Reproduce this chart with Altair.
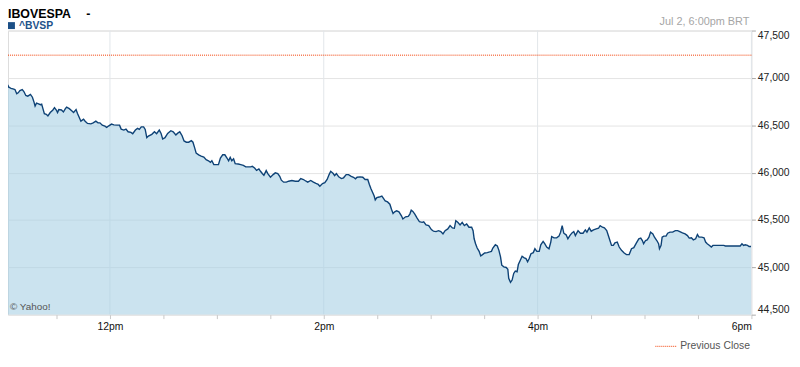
import altair as alt
import pandas as pd

# ---- data (minutes after 11:00 BRT, index level) ----
TIME_MIN = [
    0.1, 0.6, 1.7, 2.8, 3.4, 4.5, 5.6, 6.7, 7.7, 8.5,
    9.5, 10.8, 11.7, 12.8, 13.9, 15.4, 16.5, 17.4, 18.0, 18.8,
    19.6, 21.0, 21.7, 22.4, 23.2, 24.3, 25.2, 26.5, 28.0, 28.9,
    29.9, 30.6, 31.3, 32.8, 33.9, 35.0, 35.7, 37.2, 38.7, 39.6,
    41.0, 41.8, 42.8, 43.7, 45.2, 46.1, 47.4, 49.3, 50.6, 52.1,
    53.3, 54.4, 55.7, 57.2, 58.2, 59.4, 60.9, 62.2, 64.0, 65.4,
    66.3, 67.8, 69.0, 70.2, 71.8, 72.8, 74.3, 75.5, 76.5, 77.6,
    78.9, 79.8, 80.7, 81.6, 83.5, 85.0, 86.2,
    87.7, 88.7, 89.6, 90.9, 92.4, 94.2, 95.5, 97.0, 97.9, 99.2,
    100.5, 101.6, 102.9, 104.2, 105.7, 106.6, 107.6, 108.4, 109.8, 111.2,
    112.7, 114.0, 115.3, 116.4, 117.2, 118.3, 119.5, 120.9, 122.0, 123.3,
    124.5, 125.7, 126.6, 127.5, 128.4, 129.4, 130.3, 132.0, 133.4, 134.9,
    136.2, 137.5, 139.0, 139.9, 141.2, 142.3, 143.6, 144.5, 145.5, 146.4,
    147.7, 148.6, 150.1, 151.6, 152.8, 154.2, 155.3, 156.2, 157.5, 159.0,
    160.3, 162.1, 164.0, 165.8, 167.1, 168.6, 170.1,
    171.0, 172.7, 174.2, 175.6, 176.9, 177.8, 179.3, 180.6, 181.9, 183.0,
    183.9, 185.3, 186.1, 187.1, 188.4, 189.9, 191.1, 192.6, 193.9, 195.4,
    196.7, 197.8, 198.7, 200.4, 201.9, 203.2, 204.7, 205.6, 206.5, 207.5,
    208.3, 208.9, 209.8, 211.1, 212.6, 213.6, 214.5, 215.8, 217.1, 218.0,
    218.9, 219.8, 220.9, 222.2, 223.6, 224.4, 225.9, 227.4, 228.3, 229.1,
    230.0, 231.1, 232.4, 233.7, 235.2, 236.1, 237.4, 238.9, 240.4, 241.6,
    243.0, 244.4, 245.7, 246.9, 248.1, 249.6, 250.9, 252.2, 253.3, 254.1,
    255.2, 256.5, 257.7, 258.9, 260.2, 261.5, 263.0, 263.8, 264.4, 265.2,
    266.1, 267.2, 268.1, 269.1, 270.3, 271.8, 273.1, 274.1, 274.9, 276.3,
    277.4, 278.3, 279.2, 279.9, 281.1, 282.4, 283.3, 283.8, 284.8, 285.7,
    286.6, 287.5, 288.5, 289.2, 290.3, 291.3, 292.5, 293.5, 294.4, 295.3,
    296.3, 297.6, 298.5, 299.6, 300.9, 301.8, 303.1, 304.0, 305.1, 306.4,
    307.4, 307.9, 309.2, 310.7, 312.0, 312.9, 313.8, 314.7, 316.0, 317.0,
    318.1, 319.3, 320.3, 321.2, 322.7, 324.0, 325.5, 326.8, 327.7, 329.0,
    330.1, 331.4, 332.9, 334.2, 335.1, 336.4,
    337.5, 338.8, 339.7, 340.6, 341.5, 342.5, 343.4, 344.7, 345.8, 347.1,
    348.6, 349.9, 351.4, 352.7, 354.0, 355.4, 356.8, 357.9, 358.8, 359.5,
    360.6, 361.5, 362.5, 363.4, 364.7, 365.6, 366.9, 367.9, 368.4, 369.3,
    369.9, 370.8, 372.1, 373.0, 374.3, 375.8, 377.3, 378.6, 379.8, 381.3,
    382.8, 384.1, 385.1, 386.3, 387.4, 388.7, 389.7, 390.6, 392.1, 393.4,
    394.3, 395.2, 396.5, 397.5, 398.4, 400.8, 404.5, 405.4, 409.1, 413.7,
    414.7, 415.6, 416.5, 417.8, 418.7, 419.8,
]

VALUE = [
    46895, 46842, 46832, 46919, 46901, 46890, 46884, 46877, 46832, 46842,
    46866, 46877, 46856, 46814, 46807, 46825, 46796, 46744, 46703, 46734,
    46728, 46717, 46723, 46675, 46623, 46616, 46598, 46634, 46661, 46686,
    46661, 46634, 46665, 46661, 46640, 46675, 46692, 46675, 46650, 46634,
    46665, 46623, 46581, 46543, 46564, 46543, 46519, 46515, 46525, 46543,
    46525, 46525, 46501, 46491, 46477, 46494, 46512, 46504, 46501, 46501,
    46459, 46449, 46459, 46431, 46425, 46410, 46449, 46467, 46456, 46483,
    46483, 46456, 46369, 46386, 46404, 46431, 46410,
    46449, 46414, 46355, 46369, 46414, 46442, 46431, 46397, 46414, 46431,
    46389, 46334, 46321, 46321, 46337, 46321, 46258, 46206, 46188, 46174,
    46164, 46136, 46125, 46108, 46125, 46084, 46084, 46084, 46154, 46188,
    46188, 46154, 46125, 46160, 46125, 46146, 46094, 46091, 46084, 46076,
    46060, 46060, 46060, 46066, 46049, 46024, 46039, 46014, 45990, 45972,
    46021, 45990, 45951, 45979, 45997, 45990, 45961, 45920, 45899, 45899,
    45909, 45917, 45909, 45909, 45937, 45927, 45909,
    45899, 45917, 45899, 45885, 45875, 45857, 45885, 45893, 45927, 45979,
    46014, 45990, 45969, 45990, 45955, 45937, 45945, 45979, 45979, 45961,
    45951, 45934, 45951, 45955, 45951, 45927, 45927, 45875, 45830, 45788,
    45753, 45711, 45736, 45742, 45753, 45726, 45700, 45690, 45666, 45614,
    45569, 45586, 45596, 45586, 45544, 45510, 45533, 45538, 45562, 45603,
    45590, 45562, 45520, 45481, 45475, 45481, 45447, 45440, 45398, 45381,
    45377, 45387, 45377, 45353, 45387, 45405, 45440, 45416, 45412, 45492,
    45475, 45447, 45475, 45440, 45457, 45423, 45423, 45387, 45301, 45249,
    45204, 45168, 45120, 45134, 45151, 45155, 45162, 45168, 45204, 45238,
    45225, 45179, 45110, 45022, 45005, 44998, 44980, 44883, 44841, 44865,
    44935, 44959, 44953, 45029, 45074, 45116, 45099, 45092, 45058, 45092,
    45144, 45155, 45196, 45168, 45168, 45238, 45273, 45249, 45214, 45196,
    45266, 45325, 45311, 45311, 45329, 45371, 45440, 45360, 45343, 45301,
    45335, 45363, 45377, 45335, 45387, 45360, 45360, 45395, 45371, 45416,
    45381, 45395, 45405, 45412, 45440, 45423,
    45416, 45387, 45335, 45283, 45231, 45231, 45259, 45266, 45214, 45179,
    45151, 45134, 45134, 45196, 45207, 45256, 45301, 45308, 45283, 45249,
    45283, 45290, 45318, 45371, 45353, 45318, 45283, 45249, 45196, 45231,
    45318, 45329, 45329, 45360, 45371, 45371, 45387, 45387, 45377, 45363,
    45353, 45335, 45308, 45311, 45290, 45301, 45346, 45318, 45318, 45311,
    45266, 45249, 45231, 45214, 45231, 45231, 45231, 45225, 45225, 45225,
    45249, 45231, 45238, 45231, 45220, 45220,
]

Y_TICKS = [44500, 45000, 45500, 46000, 46500, 47000, 47500]
X_TICK_MIN = [30, 60, 90, 120, 150, 180, 210, 240, 270, 300, 330, 360, 390, 420]
X_LABEL_MIN = [60, 180, 300, 420]
X_LABELS = ["12pm", "2pm", "4pm", "6pm"]
PREV_CLOSE = 47240
TITLE = "IBOVESPA"
SYMBOL = "^BVSP"
STAMP = "Jul 2, 6:00pm BRT"
CREDIT = "\u00a9 Yahoo!"
LEGEND = "Previous Close"

FONT = "Liberation Sans"
W, H = 751, 287
X_DOMAIN = [2.8, 420]
Y_DOMAIN = [44500, 47500]

df = pd.DataFrame({"t": TIME_MIN, "v": VALUE})

label_expr = " : ".join(
    f"datum.value == {m} ? '{lab}'" for m, lab in zip(X_LABEL_MIN, X_LABELS)
) + " : ''"

xs = alt.Scale(domain=X_DOMAIN, nice=False, zero=False)
ys = alt.Scale(domain=Y_DOMAIN, nice=False, zero=False)

x_axis = alt.Axis(
    values=X_TICK_MIN, labelExpr=label_expr, grid=False, domain=False,
    tickColor="#c8c8c8", tickSize=4, labelPadding=3, labelFontSize=10.5,
    labelFont=FONT, labelColor="#111111", labelFlush=True, labelOverlap=False,
    title=None,
)
y_axis = alt.Axis(
    orient="right", values=Y_TICKS, labelExpr="format(datum.value, ',.0f')",
    grid=True, gridColor="#e4e4e4",
    domain=False, tickColor="#aaaaaa", tickSize=4, labelPadding=2,
    labelFontSize=10.5, labelFont=FONT, labelColor="#222222", labelFlush=True,
    title=None,
)

X = alt.X("t:Q", scale=xs, axis=x_axis)
Y = alt.Y("v:Q", scale=ys, axis=y_axis)

vgrid = alt.Chart(pd.DataFrame({"t": X_LABEL_MIN})).mark_rule(
    color="#e2e6ea", strokeWidth=1
).encode(x=X)

area = alt.Chart(df).mark_area(
    color="#a9d0e4", opacity=0.6, clip=True
).encode(x=X, y=Y, y2=alt.datum(Y_DOMAIN[0]))

line = alt.Chart(df).mark_line(
    color="#0e4276", strokeWidth=1.4, clip=True
).encode(x=X, y=Y)

prev = alt.Chart(pd.DataFrame({"v": [PREV_CLOSE]})).mark_rule(
    color="#f23c00", strokeWidth=1, strokeDash=[1, 1]
).encode(y=Y)

one = pd.DataFrame({"k": [0]})

def label(text, x, y, size=10, color="#333333", weight="normal", align="left",
          baseline="alphabetic"):
    return alt.Chart(one).mark_text(
        text=text, fontSize=size, font=FONT, color=color, fontWeight=weight,
        align=align, baseline=baseline,
    ).encode(x=alt.value(x), y=alt.value(y))

title = label(TITLE, 0, -12.5, size=12.5, color="#000000", weight="bold")
dash = label("-", 79, -12.5, size=12.5, color="#000000", weight="bold")
square = alt.Chart(one).mark_square(
    size=49, color="#1b4f86", opacity=1, filled=True
).encode(x=alt.value(3.5), y=alt.value(-5))
symbol = label(SYMBOL, 11, -1.5, size=10.5, color="#1d528a", weight="bold")
stamp = label(STAMP, 749, -5.5, size=11, color="#a6a6a6", align="right")
credit = label(CREDIT, 2, 282, size=10, color="#555555")

leg_line = alt.Chart(one).mark_rule(
    color="#f23c00", strokeWidth=1, strokeDash=[1, 1]
).encode(x=alt.value(654), x2=alt.value(675), y=alt.value(319))
leg_text = label(LEGEND, 679, 319, size=10.5, color="#555555", baseline="middle")

chart = alt.layer(
    vgrid, area, line, prev, title, dash, square, symbol, stamp, credit,
    leg_line, leg_text,
).properties(
    width=W, height=H,
    autosize=alt.AutoSizeParams(type="none"),
    padding={"left": 0, "top": 21, "right": 41, "bottom": 40},
).configure_view(
    stroke="#d6d6d6", strokeWidth=1
).configure(
    background="white"
)

chart.save("out.html", embed_options={"renderer": "svg", "actions": False})
